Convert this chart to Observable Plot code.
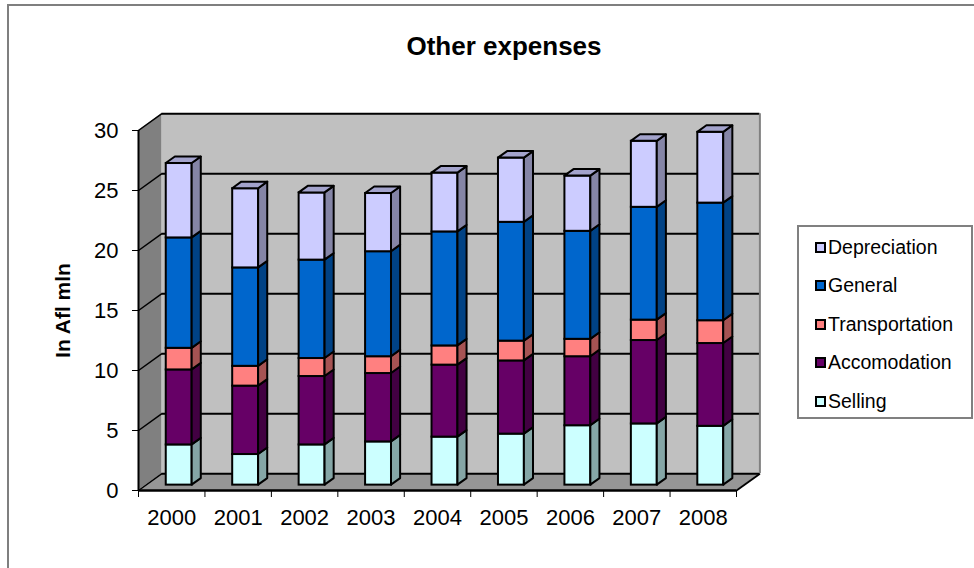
<!DOCTYPE html>
<html>
<head>
<meta charset="utf-8">
<script src="https://cdn.jsdelivr.net/npm/d3@7"></script>
<script src="https://cdn.jsdelivr.net/npm/@observablehq/plot@0.6"></script>
<style>
  body { margin: 0; background: #fff; font-family: "Liberation Sans", Arial, sans-serif; }
  #wrap { position: relative; width: 974px; height: 568px; overflow: hidden; background: #fff; }
  #frame { position: absolute; left: 7px; top: 4px; width: 1000px; height: 620px; border: 2px solid #7f7f7f; }
  #chart { position: absolute; left: 0; top: 0; }
  #title { position: absolute; left: 0; width: 1008px; top: 33px; text-align: center;
           font: bold 26px/26px "Liberation Sans", Arial, sans-serif; color: #000; }
  #legend { position: absolute; left: 797px; top: 225px; width: 176px; height: 194px; box-sizing: border-box;
            border: 2px solid #808080; background: #fff; }
  .item { position: absolute; left: 16px; height: 20px; display: flex; align-items: center;
          font: 19.5px "Liberation Sans", Arial, sans-serif; color: #000; white-space: nowrap; }
  .sw { width: 11px; height: 11px; box-sizing: border-box; border: 2px solid #000; margin-right: 2px; }
  svg [aria-label="y-axis label"] text, svg g[aria-label="y-axis label"] { font-weight: bold; font-size: 21px; }
</style>
</head>
<body>
<div id="wrap">
  <div id="frame"></div>
  <div id="chart"></div>
  <div id="title">Other expenses</div>
  <div id="legend"></div>
</div>
<script>
// ---- data ----
const years = ["2000", "2001", "2002", "2003", "2004", "2005", "2006", "2007", "2008"];
const seriesNames = ["Selling", "Accomodation", "Transportation", "General", "Depreciation"];
const selling        = [3.35, 2.55, 3.35, 3.60, 4.00, 4.25, 4.95, 5.10, 4.90];
const accomodation   = [6.25, 5.70, 5.70, 5.70, 6.00, 6.10, 5.75, 6.95, 6.90];
const transportation = [1.80, 1.65, 1.50, 1.40, 1.60, 1.65, 1.45, 1.70, 1.90];
const general        = [9.20, 8.20, 8.20, 8.75, 9.50, 9.90, 9.00, 9.40, 9.80];
const depreciation   = [6.20, 6.60, 5.60, 4.85, 4.90, 5.35, 4.60, 5.50, 5.90];
const yTicks = [0, 5, 10, 15, 20, 25, 30];
const yTitle = "In Afl mln";

// ---- styles ----
const frontColor = {Selling: "#CCFFFF", Accomodation: "#660066", Transportation: "#FF8080", General: "#0066CC", Depreciation: "#CCCCFF"};
const sideColor  = {Selling: "#85A6A6", Accomodation: "#420042", Transportation: "#A65353", General: "#004285", Depreciation: "#8585A6"};
const topColor   = {Selling: "#A3CCCC", Accomodation: "#520052", Transportation: "#CC6666", General: "#0052A3", Depreciation: "#A3A3CC"};

// pseudo-3D geometry (in data units of the linear x / y scales)
const DX = 0.352, DY = 1.40;   // full depth offset
const F0 = 0.32, BD = 0.39;    // bar front depth fraction, bar depth fraction
const BW = 0.39;               // bar width (fraction of category)
const n = years.length;
const yMax = d3.max(yTicks);

const values = {Selling: selling, Accomodation: accomodation, Transportation: transportation, General: general, Depreciation: depreciation};

const segs = [];
years.forEach((yr, i) => {
  let acc = 0;
  seriesNames.forEach((s, k) => {
    const v = values[s][i];
    segs.push({i, s, k, lo: acc, hi: acc + v, top: k === seriesNames.length - 1});
    acc += v;
  });
});
const xl = d => d.i + 0.5 - BW / 2 + F0 * DX;
const xr = d => d.i + 0.5 + BW / 2 + F0 * DX;

const sidePts = segs.flatMap((d, j) => [
  {id: j, s: d.s, x: xr(d), y1: d.lo + F0 * DY, y2: d.hi + F0 * DY},
  {id: j, s: d.s, x: xr(d) + BD * DX, y1: d.lo + (F0 + BD) * DY, y2: d.hi + (F0 + BD) * DY}
]);
const topPts = segs.filter(d => d.top).flatMap((d, j) => [
  {id: j, s: d.s, y: d.hi + F0 * DY, x1: xl(d), x2: xr(d)},
  {id: j, s: d.s, y: d.hi + (F0 + BD) * DY, x1: xl(d) + BD * DX, x2: xr(d) + BD * DX}
]);

const chart = Plot.plot({
  width: 974,
  height: 568,
  marginLeft: 138,
  marginRight: 238,
  marginTop: 130,
  marginBottom: 78,
  style: {fontFamily: "'Liberation Sans', Arial, sans-serif", fontSize: "22px", background: "transparent", overflow: "visible", color: "#000"},
  x: {type: "linear", domain: [0, n]},
  y: {type: "linear", domain: [0, yMax]},
  color: {type: "identity"},
  marks: [
    // back wall
    Plot.rect([0], {x1: DX, x2: n + DX, y1: DY, y2: yMax + DY, fill: "#C0C0C0"}),
    // side wall
    Plot.areaY([{x: 0, y1: 0, y2: yMax}, {x: DX, y1: DY, y2: yMax + DY}], {x: "x", y1: "y1", y2: "y2", fill: "#808080"}),
    // floor
    Plot.areaX([{y: 0, x1: 0, x2: n}, {y: DY, x1: DX, x2: n + DX}], {y: "y", x1: "x1", x2: "x2", fill: "#969696"}),
    // gridlines on back wall and side wall
    Plot.ruleY(yTicks, {y: d => d + DY, x1: DX, x2: n + DX, stroke: "#000", strokeWidth: 2}),
    Plot.link(yTicks, {x1: 0, y1: d => d, x2: DX, y2: d => d + DY, stroke: "#000", strokeWidth: 1.5}),
    Plot.ruleX([n + DX], {y1: DY, y2: yMax + DY, stroke: "#808080", strokeWidth: 2}),
    Plot.link([0], {x1: n, y1: 0, x2: n + DX, y2: DY, stroke: "#000", strokeWidth: 2}),
    // front axis lines
    Plot.ruleX([0], {y1: 0, y2: yMax, stroke: "#000", strokeWidth: 2}),
    Plot.ruleY([0], {x1: 0, x2: n, stroke: "#000", strokeWidth: 2.5}),
    // bars: front faces, side faces, top caps
    Plot.rect(segs, {x1: xl, x2: xr, y1: d => d.lo + F0 * DY, y2: d => d.hi + F0 * DY,
                     fill: d => frontColor[d.s], stroke: "#000", strokeWidth: 2}),
    Plot.areaY(sidePts, {x: "x", y1: "y1", y2: "y2", z: "id", fill: d => sideColor[d.s], stroke: "#000", strokeWidth: 2, strokeLinejoin: "round"}),
    Plot.areaX(topPts, {y: "y", x1: "x1", x2: "x2", z: "id", fill: d => topColor[d.s], stroke: "#000", strokeWidth: 2, strokeLinejoin: "round"}),
    // axes
    Plot.axisY(yTicks, {tickSize: 6, tickPadding: 14, fontSize: 22, label: yTitle, labelAnchor: "center", labelOffset: 83, labelArrow: "none"}),
    Plot.axisX(d3.range(n + 1), {tickSize: 7, tickFormat: () => "", label: null}),
    Plot.axisX(d3.range(n).map(i => i + 0.5), {tickSize: 0, tickPadding: 19, fontSize: 22, tickFormat: d => years[Math.floor(d)], label: null})
  ]
});
document.getElementById("chart").appendChild(chart);

// legend (top to bottom: reverse stacking order)
const legend = document.getElementById("legend");
seriesNames.slice().reverse().forEach((s, j) => {
  const row = document.createElement("div");
  row.className = "item";
  row.style.top = (10 + j * 38.6) + "px";
  const sw = document.createElement("div");
  sw.className = "sw";
  sw.style.background = frontColor[s];
  const t = document.createElement("span");
  t.textContent = s;
  row.appendChild(sw);
  row.appendChild(t);
  legend.appendChild(row);
});
</script>
</body>
</html>
